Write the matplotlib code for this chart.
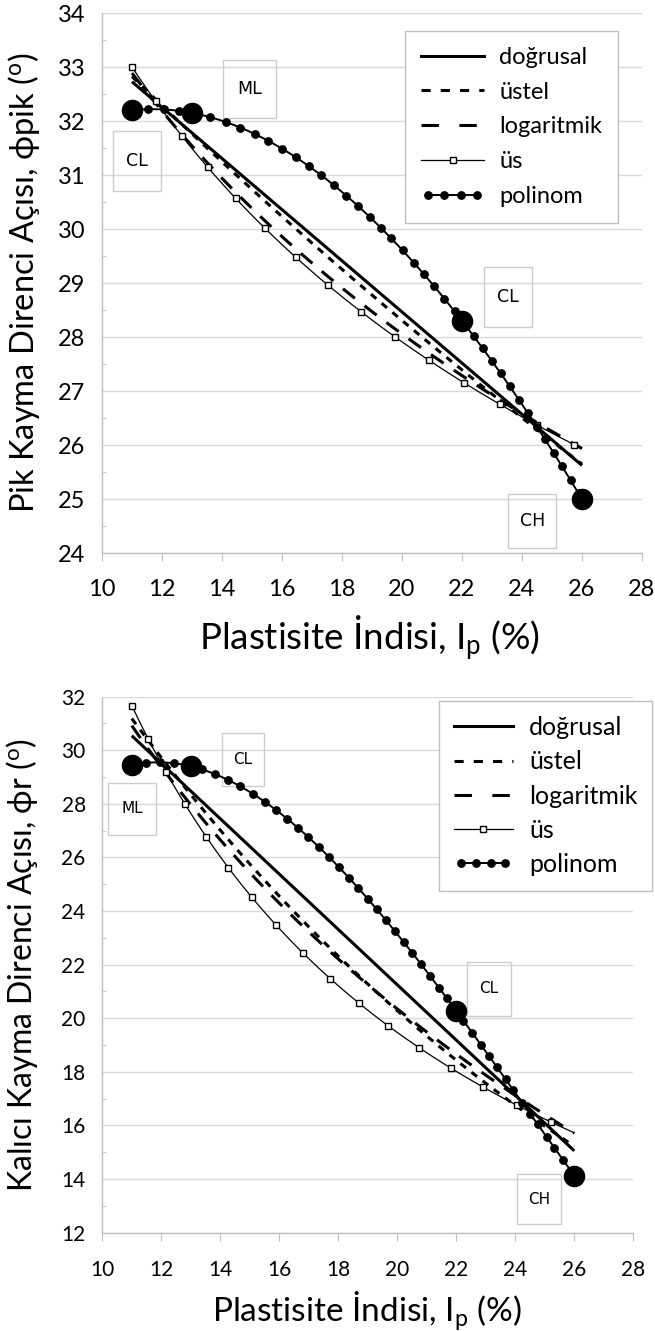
import numpy as np
import matplotlib
matplotlib.use("Agg")
import matplotlib.pyplot as plt
from matplotlib.lines import Line2D
from matplotlib.patches import Rectangle
from matplotlib.legend_handler import HandlerLine2D
from matplotlib.ticker import MultipleLocator

plt.rcParams['font.family'] = ['Lato', 'DejaVu Sans']
plt.rcParams['mathtext.fontset'] = 'custom'
plt.rcParams['mathtext.rm'] = 'Lato'
plt.rcParams['mathtext.it'] = 'Lato:italic'
plt.rcParams['mathtext.bf'] = 'Lato:bold'

# plasticity index (%) of the four soils
plasticity_index = np.array([11.0, 13.0, 22.0, 26.0])
# peak and residual shear strength angles (degrees)
phi_peak = np.array([32.2, 32.15, 28.3, 25.0])
phi_residual = np.array([29.45, 29.4, 20.27, 14.13])

soil_classes_peak = ['CL', 'ML', 'CL', 'CH']
soil_classes_residual = ['CL', 'ML', 'CL', 'CH']

trend_labels = ['doğrusal', 'üstel', 'logaritmik', 'üs', 'polinom']
x_ticks = np.arange(10, 29, 2)
peak_ticks = np.arange(24, 35, 1)
residual_ticks = np.arange(12, 33, 2)

GRID = '#d9d9d9'
AXIS = '#bfbfbf'


def trendlines(x, y, xs):
    lin = np.polyval(np.polyfit(x, y, 1), xs)
    b, a = np.polyfit(x, np.log(y), 1)
    expo = np.exp(a) * np.exp(b * xs)
    b, a = np.polyfit(np.log(x), y, 1)
    loga = a + b * np.log(xs)
    b, a = np.polyfit(np.log(x), np.log(y), 1)
    powr = np.exp(a) * xs ** b
    poly = np.polyval(np.polyfit(x, y, 3), xs)
    return [lin, expo, loga, powr, poly]


def line_styles(dot_every, square_every):
    return [
        dict(color='black', lw=2.2, ls='-'),
        dict(color='black', lw=2.2, dashes=(2.3, 2.3)),
        dict(color='black', lw=2.2, dashes=(5, 4)),
        dict(color='black', lw=0.9, marker='s', ms=4.8, mfc='white',
             mec='black', mew=1.0, markevery=square_every),
        dict(color='black', lw=1.4, marker='o', ms=5.3, markevery=dot_every),
    ]


def legend_handles():
    return [
        Line2D([], [], color='black', lw=2.2),
        Line2D([], [], color='black', lw=2.2, dashes=(3.0, 3.3)),
        Line2D([], [], color='black', lw=2.2, dashes=(5.7, 6.7)),
        Line2D([], [], color='black', lw=0.9, marker='s', ms=4.8,
               mfc='white', mec='black', mew=1.0),
        Line2D([], [], color='black', lw=1.4, marker='o', ms=5.3),
    ]


def draw_panel(ax, y, ylim, yticks, minor_step, dot_every, square_every,
               boxes, box_fs, tick_fs, tick_pad, legend_anchor, legend_kw):
    x = plasticity_index
    xs = np.linspace(x.min(), x.max(), 400)
    for curve, st in zip(trendlines(x, y, xs), line_styles(dot_every, square_every)):
        ax.plot(xs, curve, solid_capstyle='butt', dash_capstyle='butt', zorder=3, **st)
    ax.plot(x, y, 'o', color='black', ms=14.5, zorder=5)

    for label, cx, cy, w, h in boxes:
        ax.add_patch(Rectangle((cx - w / 2, cy - h / 2), w, h, fill=False,
                               ec='#cccccc', lw=1.0, zorder=2))
        ax.text(cx, cy, label, ha='center', va='center', fontsize=box_fs,
                family='DejaVu Sans', zorder=2)

    ax.set_xlim(10, 28)
    ax.set_ylim(*ylim)
    ax.set_xticks(x_ticks)
    ax.set_yticks(yticks)
    ax.yaxis.set_minor_locator(MultipleLocator(minor_step))
    ax.yaxis.grid(True, which='major', color=GRID, lw=1.0)
    ax.set_axisbelow(True)
    for s in ('top', 'right'):
        ax.spines[s].set_visible(False)
    for s in ('left', 'bottom'):
        ax.spines[s].set_color(AXIS)
        ax.spines[s].set_linewidth(1.0)
    ax.tick_params(axis='x', which='major', direction='out', length=5.5,
                   color=AXIS, labelsize=tick_fs, pad=tick_pad)
    ax.tick_params(axis='y', which='major', length=0, labelsize=tick_fs, pad=12)
    ax.tick_params(axis='y', which='minor', direction='in', length=3, color=AXIS)

    hs = legend_handles()
    hmap = {hs[3]: HandlerLine2D(numpoints=1), hs[4]: HandlerLine2D(numpoints=4)}
    leg = ax.legend(hs, trend_labels, loc='upper left', bbox_to_anchor=legend_anchor,
                    bbox_transform=ax.figure.transFigure, frameon=True,
                    fancybox=False, framealpha=1, edgecolor=AXIS,
                    borderaxespad=0, handler_map=hmap, **legend_kw)
    leg.get_frame().set_linewidth(1.0)
    return ax


fig = plt.figure(figsize=(6.55, 13.31), dpi=100)

ax1 = fig.add_axes([0.1557, 0.5845, 0.8244, 0.4057])
draw_panel(ax1, phi_peak, (24, 34), peak_ticks, 0.5, 0.0207, 0.055,
           [('CL', 11.17, 31.26, 1.6, 1.1),
            ('ML', 14.92, 32.6, 1.77, 1.07),
            ('CL', 23.53, 28.74, 1.6, 1.1),
            ('CH', 24.34, 24.60, 1.6, 1.0)],
           12.5, 17, 13, (0.6183, 0.9767),
           dict(fontsize=17, handlelength=2.67, handletextpad=0.64,
                borderpad=0.68, labelspacing=0.58))
ax1.set_xlabel('Plastisite İndisi, $\\mathregular{I_p}$ (%)', fontsize=26.5)
ax1.set_ylabel('Pik Kayma Direnci Açısı, ϕpik ($\\mathregular{^o}$)', fontsize=23.5)
ax1.xaxis.set_label_coords(0.496, -0.112)
ax1.yaxis.set_label_coords(-0.111, 0.5)

ax2 = fig.add_axes([0.1562, 0.0739, 0.8107, 0.4027])
draw_panel(ax2, phi_residual, (12, 32), residual_ticks, 1.0, 0.0188, 0.050,
           [('CL', 14.77, 29.66, 1.44, 1.99),
            ('ML', 11.01, 27.81, 1.64, 1.95),
            ('CL', 23.11, 21.10, 1.48, 2.03),
            ('CH', 24.80, 13.25, 1.48, 1.85)],
           11, 15, 14.5, (0.6702, 0.4733),
           dict(fontsize=18, handlelength=2.36, handletextpad=0.64,
                borderpad=0.6, labelspacing=0.45))
ax2.set_xlabel('Plastisite İndisi, $\\mathregular{I_p}$ (%)', fontsize=24)
ax2.set_ylabel('Kalıcı Kayma Direnci Açısı, ϕr ($\\mathregular{^o}$)', fontsize=23)
ax2.xaxis.set_label_coords(0.4985, -0.105)
ax2.yaxis.set_label_coords(-0.117, 0.5)

fig.savefig('out.png', dpi=100)
